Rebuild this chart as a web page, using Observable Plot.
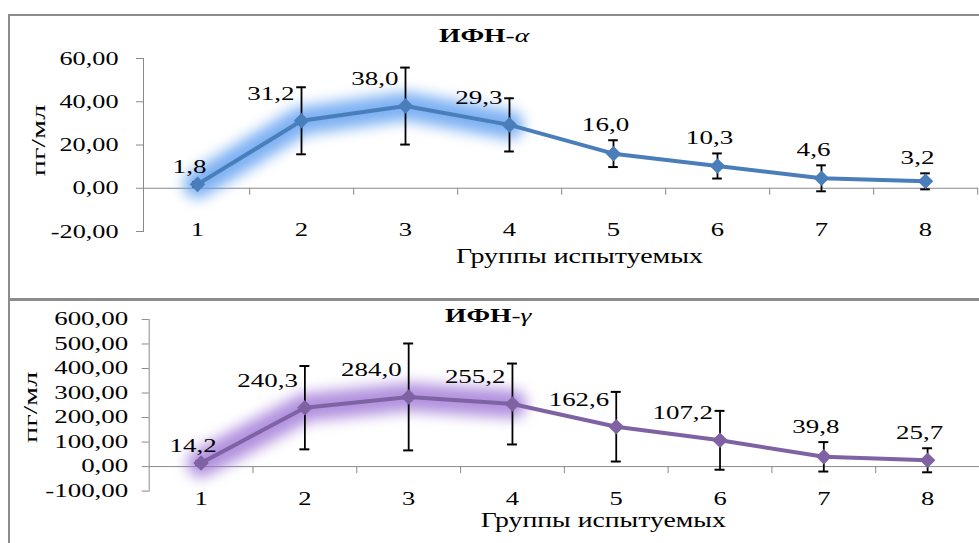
<!DOCTYPE html>
<html><head><meta charset="utf-8">
<script src="https://cdn.jsdelivr.net/npm/d3@7"></script>
<script src="https://cdn.jsdelivr.net/npm/@observablehq/plot@0.6"></script>
<style>
html,body{margin:0;padding:0;background:#fff;overflow:hidden;width:979px;height:543px;}
#wrap{position:relative;width:979px;height:543px;overflow:hidden;}
.panel{position:absolute;}
.box{position:absolute;border:2px solid #8c8c8c;box-sizing:border-box;}
</style></head><body>
<div id="wrap">
 <div class="box" style="left:8px;top:14px;width:1100px;height:287px"></div>
 <div class="box" style="left:8px;top:298px;width:1100px;height:400px"></div>
 <div id="p1" class="panel" style="left:0;top:0"></div>
 <div id="p2" class="panel" style="left:0;top:300px"></div>
</div>
<script>
// ---- data ----
const groups = ["1","2","3","4","5","6","7","8"];
const alphaValues = [1.8, 31.2, 38.0, 29.3, 16.0, 10.3, 4.6, 3.2];
const alphaErrors = [1.0, 15.5, 17.8, 12.3, 6.2, 5.8, 6.0, 3.7];
const alphaTicks = [-20, 0, 20, 40, 60];
const gammaValues = [14.2, 240.3, 284.0, 255.2, 162.6, 107.2, 39.8, 25.7];
const gammaErrors = [8, 170, 218, 165, 142, 120, 60, 49];
const gammaTicks = [-100, 0, 100, 200, 300, 400, 500, 600];
const highlighted = ["1","2","3","4"];
const xTitle = "Группы испытуемых";
const yTitle = "пг/мл";

const fmt1 = v => v.toFixed(1).replace(".", ",");
const fmt2 = v => v.toFixed(2).replace(".", ",");
const FONT = "'Liberation Serif', 'Times New Roman', serif";

function drawPanel(el, cfg) {
  const data = groups.map((g, i) => ({g, v: cfg.values[i], e: cfg.errors[i], label: fmt1(cfg.values[i])}));
  const bw = (cfg.width - cfg.mL - cfg.mR) / groups.length;
  const ppu = (cfg.height - cfg.mT - cfg.mB) / (cfg.domain[1] - cfg.domain[0]);
  const leftLab = data.filter(d => d.e * ppu > 22);
  const topLab = data.filter(d => d.e * ppu <= 22);
  const hi = data.filter(d => highlighted.includes(d.g));
  const at = (px, py) => ({frameAnchor: "top-left", dx: px - cfg.mL, dy: py - cfg.mT});
  const capInset = bw / 2 - 5;
  const svg = Plot.plot({
    width: cfg.width, height: cfg.height,
    marginLeft: cfg.mL, marginRight: cfg.mR, marginTop: cfg.mT, marginBottom: cfg.mB,
    style: {fontFamily: FONT, background: "transparent", overflow: "visible", color: "black"},
    x: {type: "band", domain: groups, padding: 0},
    y: {domain: cfg.domain},
    marks: [
      Plot.frame({anchor: "left", stroke: "#8a8a8a"}),
      Plot.ruleY([0], {stroke: "#8a8a8a"}),
      Plot.ruleX(data, {x: "g", y1: () => 0, y2: () => 0, insetTop: 7, dx: bw / 2, stroke: "#8a8a8a"}),
      Plot.axisY({ticks: cfg.ticks, tickFormat: fmt2, tickSize: 7, tickPadding: cfg.yPad, stroke: "#8a8a8a", fill: "black", fontSize: cfg.yFont, label: null}),
      Plot.axisX({tickSize: 0, tickPadding: cfg.xPad, fontSize: 19, fill: "black", label: null}),
      Plot.line(hi, {x: "g", y: "v", stroke: cfg.glow, strokeWidth: 28, strokeOpacity: 0.8, strokeLinecap: "round", strokeLinejoin: "round", ariaDescription: "glow"}),
      Plot.line(data, {x: "g", y: "v", stroke: cfg.color, strokeWidth: 4}),
      Plot.ruleX(data, {x: "g", y1: d => d.v - d.e, y2: d => d.v + d.e, stroke: "black", strokeWidth: 1.8}),
      Plot.tickY(data, {x: "g", y: d => d.v - d.e, stroke: "black", strokeWidth: 2, insetLeft: capInset, insetRight: capInset}),
      Plot.tickY(data, {x: "g", y: d => d.v + d.e, stroke: "black", strokeWidth: 2, insetLeft: capInset, insetRight: capInset}),
      Plot.dot(data, {x: "g", y: "v", symbol: "diamond2", r: 7, fill: cfg.color, stroke: "none"}),
      Plot.text(topLab, {x: "g", y: d => d.v + d.e, text: "label", dx: -8, dy: -9, lineAnchor: "bottom", fontSize: 18, fill: "black", ariaDescription: "labels"}),
      Plot.text(leftLab, {x: "g", y: "v", text: "label", dx: -7, dy: -21, textAnchor: "end", lineAnchor: "bottom", fontSize: 18, fill: "black", ariaDescription: "labels"}),
      Plot.text([cfg.titleMain], {...at(cfg.titleX, cfg.titleY), textAnchor: "end", lineAnchor: "bottom", fontSize: 19, fontWeight: "bold", fill: "black", ariaDescription: "title"}),
      Plot.text([cfg.titleGreek], {...at(cfg.titleX, cfg.titleY), textAnchor: "start", lineAnchor: "bottom", fontSize: 19, fontStyle: "italic", fill: "black", ariaDescription: "title"}),
      Plot.text([xTitle], {...at(cfg.xtX, cfg.xtY), textAnchor: "middle", lineAnchor: "bottom", fontSize: cfg.xtFont, fill: "black", ariaDescription: "xtitle"}),
      Plot.text([yTitle], {...at(cfg.ytX, cfg.ytY), rotate: -90, textAnchor: "middle", lineAnchor: "middle", fontSize: 19, fill: "black", ariaDescription: "ylabel"})
    ]
  });
  el.appendChild(svg);
  // soft glow on the highlighted segment
  let g = svg.querySelector('g[aria-description="glow"]');
  if (!g) g = svg.querySelector(`g[stroke="${cfg.glow}"]`);
  if (g) g.style.filter = "blur(7px)";
  // horizontal stretch of text (the reference is a widened picture)
  svg.querySelectorAll("text").forEach(t => {
    const p = t.closest("g[aria-description], g[aria-label]");
    const key = p ? (p.getAttribute("aria-description") || p.getAttribute("aria-label")) : "";
    const f = cfg.stretch[key] ?? 1.45;
    const len = t.getComputedTextLength();
    if (len > 0) {
      t.setAttribute("textLength", (len * f).toFixed(1));
      t.setAttribute("lengthAdjust", "spacingAndGlyphs");
    }
  });
}

drawPanel(document.getElementById("p1"), {
  values: alphaValues, errors: alphaErrors, ticks: alphaTicks, domain: [-20, 60],
  color: "#4a7ebb", glow: "#5b9cf0",
  width: 979, height: 300, mL: 143, mR: 1, mT: 58, mB: 69,
  yPad: 18, yFont: 19, xPad: -9,
  titleMain: "ИФН", titleGreek: "-α", titleX: 505, titleY: 41,
  xtX: 579, xtY: 262, xtFont: 22, ytX: 38, ytY: 140,
  stretch: {"y-axis tick label": 1.38, "x-axis tick label": 1.4, "labels": 1.5, "title": 1.45, "xtitle": 1.27, "ylabel": 1.6}
});

drawPanel(document.getElementById("p2"), {
  values: gammaValues, errors: gammaErrors, ticks: gammaTicks, domain: [-100, 600],
  color: "#7f62a3", glow: "#9d74d6",
  width: 981, height: 243, mL: 149, mR: 0, mT: 19, mB: 52,
  yPad: 14, yFont: 18, xPad: 0,
  titleMain: "ИФН", titleGreek: "-γ", titleX: 512, titleY: 22,
  xtX: 604, xtY: 227, xtFont: 20, ytX: 30, ytY: 107,
  stretch: {"y-axis tick label": 1.5, "x-axis tick label": 1.4, "labels": 1.5, "title": 1.45, "xtitle": 1.39, "ylabel": 1.6}
});
</script>
</body></html>
